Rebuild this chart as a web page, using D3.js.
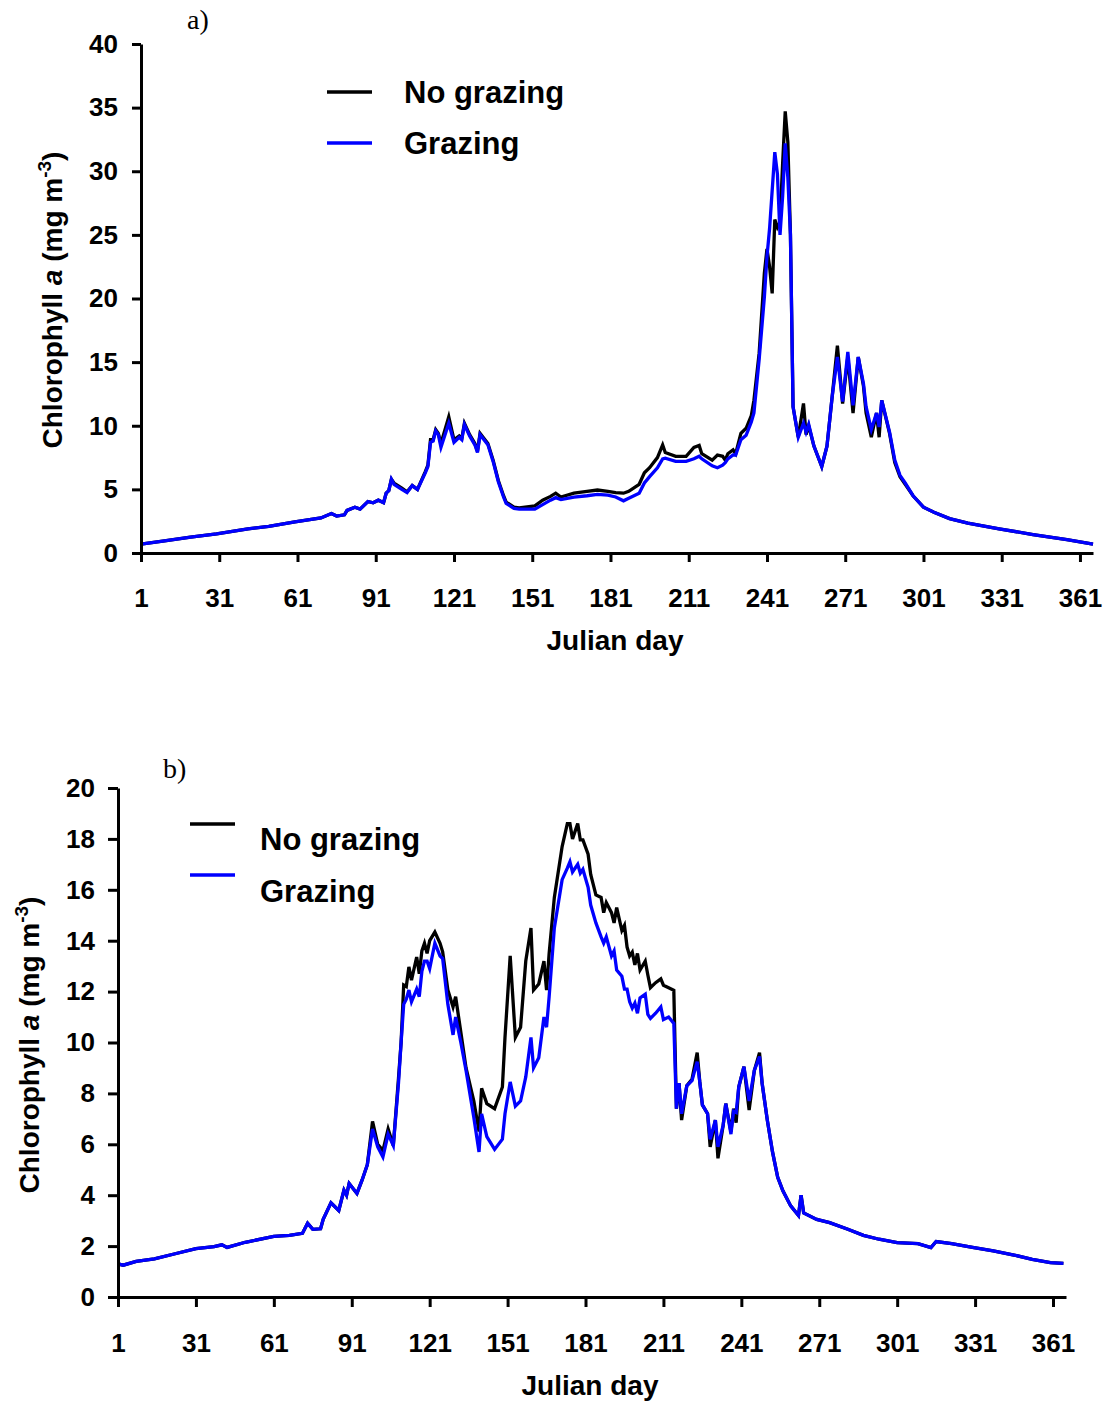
<!DOCTYPE html>
<html><head><meta charset="utf-8">
<script src="https://cdn.jsdelivr.net/npm/d3@7"></script>
<style>body{margin:0;background:#fff;} svg{display:block;}</style>
</head><body>
<svg id="chart" width="1110" height="1403"></svg>
<script>
// ---------- data ----------
const xTicks = [1, 31, 61, 91, 121, 151, 181, 211, 241, 271, 301, 331, 361];
const yTicksA = [0, 5, 10, 15, 20, 25, 30, 35, 40];
const yTicksB = [0, 2, 4, 6, 8, 10, 12, 14, 16, 18, 20];
const seriesNames = ["No grazing", "Grazing"];
const panelLabels = ["a)", "b)"];

const daysA = [1,10,20,30,42,50,60,70,74,76,79,80,83,85,88,90,92,94,95,96,97,98,101,103,105,107,110,111,112,113,114,115,116,119,121,123,124,125,127,129,130,131,134,136,138,140,141,144,146,152,155,158,160,162,167,172,176,180,183,186,188,192,194,196,199,201,202,206,210,213,215,216,220,222,224,225,226,228,229,231,233,235,236,238,240,241,242,243,244,245,246,247,248,249,250,251,253,255,256,257,259,262,264,266,268,270,272,274,276,278,279,281,283,284,285,288,290,292,294,297,301,305,311,318,330,343,356,366];
const noGrazingA = [0.7,0.95,1.25,1.5,1.9,2.1,2.45,2.75,3.1,2.9,3.0,3.35,3.6,3.45,4.05,3.95,4.15,3.95,4.7,4.9,5.8,5.5,5.1,4.8,5.3,5.0,6.4,6.9,8.9,8.9,9.7,9.4,8.6,10.7,8.9,9.2,9.0,10.2,9.3,8.6,8.0,9.4,8.6,7.3,5.7,4.5,4.0,3.6,3.55,3.7,4.15,4.45,4.7,4.4,4.7,4.85,4.95,4.85,4.75,4.7,4.85,5.4,6.3,6.7,7.5,8.5,7.9,7.6,7.6,8.3,8.45,7.8,7.3,7.7,7.6,7.3,7.8,8.1,7.8,9.4,9.8,10.8,12.0,15.7,22.0,23.9,22.5,20.4,26.2,25.6,26.0,30.6,34.7,32.3,25.0,11.5,9.1,11.75,9.3,10.0,8.4,6.8,8.4,12.3,16.3,11.75,15.4,11.0,15.4,13.1,11.0,9.1,11.0,9.1,12.0,9.4,7.1,6.0,5.4,4.5,3.6,3.2,2.7,2.35,1.9,1.45,1.05,0.7];
const grazingA = [0.7,0.95,1.25,1.5,1.9,2.1,2.45,2.75,3.1,2.9,3.0,3.35,3.6,3.45,4.05,3.95,4.15,3.95,4.7,4.9,5.8,5.4,5.0,4.75,5.3,5.0,6.3,6.8,8.7,8.8,9.6,9.3,8.3,10.2,8.7,9.1,8.9,10.1,9.2,8.5,7.9,9.3,8.5,7.2,5.6,4.4,3.9,3.5,3.45,3.45,3.8,4.15,4.35,4.2,4.4,4.5,4.6,4.55,4.4,4.1,4.3,4.7,5.5,6.0,6.7,7.4,7.45,7.2,7.2,7.4,7.6,7.4,6.85,6.7,6.9,7.1,7.4,7.7,7.7,8.9,9.25,10.3,11.0,15.2,20.1,23.3,25.5,28.5,31.5,29.8,25.0,28.0,32.2,29.5,25.0,11.5,9.1,10.2,9.5,10.1,8.4,6.8,8.4,12.3,15.4,11.9,15.8,11.6,15.4,13.3,11.5,9.7,11.0,9.9,12.0,9.5,7.3,6.1,5.5,4.5,3.6,3.2,2.7,2.35,1.9,1.45,1.05,0.7];

const daysB = [1,3,8,15,23,31,38,41,43,50,61,67,72,74,76,79,80,83,86,88,89,90,93,95,97,99,101,103,105,107,109,110,111,112,113,114,116,117,118,119,120,121,123,125,126,128,130,131,133,135,138,140,141,143,146,149,150,152,154,156,158,160,161,163,165,166,167,169,172,174,175,176,178,179,180,182,183,185,187,188,189,191,192,193,195,196,197,198,199,200,201,202,204,205,206,208,210,211,213,215,216,217,218,220,222,224,225,226,228,229,231,232,234,235,237,238,239,240,242,244,246,248,249,251,253,255,257,260,263,264,265,270,275,282,288,294,301,309,314,316,322,330,338,346,353,360,365];
const noGrazingB = [1.3,1.25,1.4,1.5,1.7,1.9,1.98,2.05,1.95,2.15,2.38,2.42,2.5,2.9,2.66,2.68,3.05,3.7,3.4,4.2,4.0,4.46,4.07,4.6,5.2,6.9,6.0,5.75,6.6,5.95,8.6,10.0,12.26,12.2,12.97,12.45,13.36,12.7,13.6,13.9,13.5,14.0,14.34,13.9,13.56,12.06,11.4,11.8,10.4,9.0,7.7,6.5,8.2,7.6,7.4,8.25,10.2,13.4,10.2,10.6,13.2,14.5,12.06,12.3,13.2,12.06,13.5,15.7,17.7,18.6,18.6,18.0,18.6,17.96,17.96,17.4,16.6,15.8,15.7,15.1,15.5,15.1,14.7,15.3,14.4,14.6,13.75,13.4,13.55,13.05,13.5,12.85,13.2,12.65,12.15,12.35,12.5,12.25,12.15,12.05,7.4,8.4,6.95,8.3,8.55,9.6,8.45,7.55,7.2,5.9,6.95,5.45,6.75,7.6,6.5,7.4,6.85,8.25,9.05,7.35,8.9,9.6,8.4,6.95,5.7,4.7,4.17,3.58,3.2,4.0,3.3,3.05,2.92,2.66,2.42,2.27,2.14,2.1,1.94,2.18,2.1,1.95,1.81,1.65,1.48,1.35,1.32];
const grazingB = [1.3,1.25,1.4,1.5,1.7,1.9,1.98,2.05,1.95,2.15,2.38,2.42,2.5,2.9,2.66,2.68,3.05,3.7,3.4,4.2,4.0,4.46,4.07,4.6,5.2,6.6,5.9,5.5,6.4,5.95,8.4,10.0,11.5,11.7,12.06,11.6,12.1,11.8,12.8,13.2,13.2,12.9,13.9,13.4,13.3,11.5,10.3,11.0,10.0,8.9,7.05,5.7,7.2,6.3,5.8,6.2,7.2,8.45,7.5,7.7,8.65,10.2,9.0,9.4,11.0,10.6,11.8,14.5,16.4,16.85,17.1,16.7,17.0,16.65,16.8,16.1,15.4,14.7,14.15,13.9,14.15,13.4,13.6,12.85,12.6,12.1,12.1,11.6,11.35,11.55,11.15,11.75,11.9,11.1,10.95,11.15,11.4,10.9,11.0,10.75,7.4,8.4,7.2,8.3,8.5,9.25,8.45,7.55,7.2,6.2,6.95,5.9,6.75,7.6,6.4,7.3,7.25,8.25,9.05,7.7,8.9,9.45,8.4,6.95,5.7,4.7,4.17,3.58,3.2,4.0,3.3,3.05,2.92,2.66,2.42,2.27,2.14,2.1,1.94,2.18,2.1,1.95,1.81,1.65,1.48,1.35,1.32];

// ---------- drawing ----------
const svg = d3.select("#chart");
const FONT = "'Liberation Sans', Arial, sans-serif";
const colors = ["#000000", "#0000ff"];

function panel(cfg) {
  const x = d3.scaleLinear().domain([1, 366]).range([cfg.x0, cfg.x1]);
  const y = d3.scaleLinear().domain([0, cfg.yMax]).range([cfg.y0, cfg.yTop]);
  const g = svg.append("g");

  const line = d3.line().x(d => x(d[0])).y(d => y(d[1]));
  cfg.series.forEach((vals, i) => {
    g.append("path")
      .datum(cfg.days.map((d, k) => [d, vals[k]]))
      .attr("d", line)
      .attr("fill", "none")
      .attr("stroke", colors[i])
      .attr("stroke-width", 3.3)
      .attr("stroke-linejoin", "miter");
  });

  const ya = g.append("g").attr("transform", `translate(${cfg.x0},0)`)
    .call(d3.axisLeft(y).tickValues(cfg.yTicks).tickSize(cfg.tick).tickSizeOuter(0).tickPadding(cfg.yPad));
  const xa = g.append("g").attr("transform", `translate(0,${cfg.y0})`)
    .call(d3.axisBottom(x).tickValues(xTicks).tickSize(cfg.tick).tickSizeOuter(0).tickPadding(27));
  [ya, xa].forEach(a => {
    a.selectAll("path,line").attr("stroke", "#000").attr("stroke-width", 3);
    a.selectAll("text").attr("font-family", FONT).attr("font-weight", "bold")
      .attr("font-size", 26).attr("fill", "#000");
  });

  // axis titles
  g.append("text").attr("x", cfg.xTitle[0]).attr("y", cfg.xTitle[1])
    .attr("text-anchor", "middle").attr("font-family", FONT).attr("font-weight", "bold")
    .attr("font-size", 28).text("Julian day");

  const yt = g.append("text")
    .attr("transform", `translate(${cfg.yTitle[0]},${cfg.yTitle[1]}) rotate(-90)`)
    .attr("text-anchor", "middle").attr("font-family", FONT).attr("font-weight", "bold")
    .attr("font-size", 28);
  yt.append("tspan").text("Chlorophyll ");
  yt.append("tspan").attr("font-style", "italic").text("a");
  yt.append("tspan").text(" (mg m");
  yt.append("tspan").attr("font-size", 19).attr("dy", -11).text("-3");
  yt.append("tspan").attr("dy", 11).text(")");

  // legend
  seriesNames.forEach((name, i) => {
    const ly = cfg.legend.y[i];
    g.append("line").attr("x1", cfg.legend.lx0).attr("x2", cfg.legend.lx1)
      .attr("y1", ly).attr("y2", ly).attr("stroke", colors[i]).attr("stroke-width", 3.5);
    g.append("text").attr("x", cfg.legend.tx).attr("y", cfg.legend.ty[i] + 11)
      .attr("font-family", FONT).attr("font-weight", "bold").attr("font-size", 31).text(name);
  });

  // panel label
  g.append("text").attr("x", cfg.label[0]).attr("y", cfg.label[1])
    .attr("font-family", "'Liberation Serif', 'Times New Roman', serif")
    .attr("font-size", 28).text(cfg.labelText);
}

panel({
  days: daysA, series: [noGrazingA, grazingA], yTicks: yTicksA, yMax: 40,
  x0: 141, x1: 1093, y0: 553, yTop: 44, tick: 9, yPad: 14,
  xTitle: [615, 650], yTitle: [62, 300],
  legend: { lx0: 327, lx1: 372, y: [92, 143], tx: 404, ty: [92, 143] },
  label: [187, 29], labelText: panelLabels[0]
});

panel({
  days: daysB, series: [noGrazingB, grazingB], yTicks: yTicksB, yMax: 20,
  x0: 118, x1: 1066, y0: 1297, yTop: 788, tick: 10, yPad: 13,
  xTitle: [590, 1395], yTitle: [39, 1045],
  legend: { lx0: 190, lx1: 235, y: [824, 875], tx: 260, ty: [839, 891] },
  label: [163, 778], labelText: panelLabels[1]
});
</script>
</body></html>
